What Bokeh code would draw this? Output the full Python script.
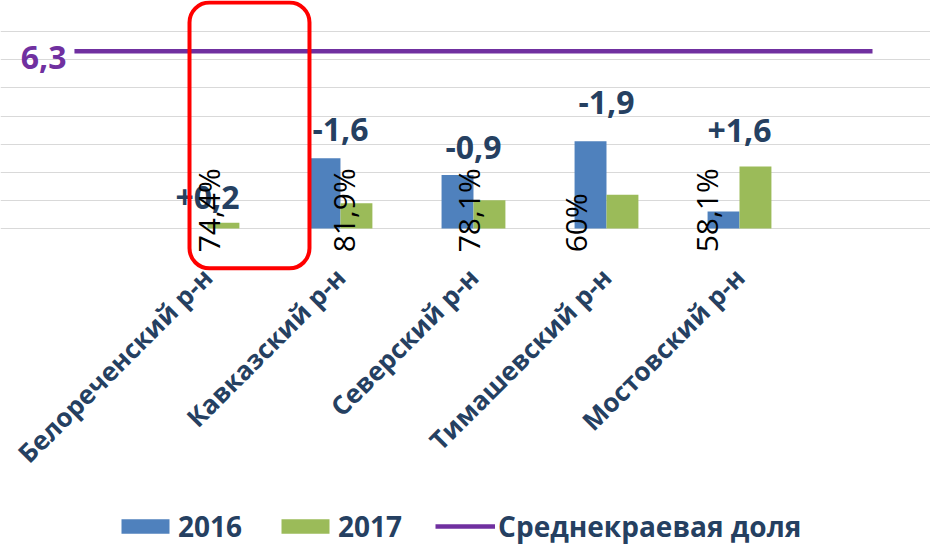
import math
from bokeh.plotting import figure
from bokeh.models import (ColumnDataSource, Range1d, FixedTicker, Legend, LegendItem,
                          BoxAnnotation, Grid)
from bokeh.core.properties import value
from bokeh.embed import file_html
from bokeh.resources import INLINE

# ---- data ----
districts = ["Белореченский р-н", "Кавказский р-н", "Северский р-н",
             "Тимашевский р-н", "Мостовский р-н"]
values_2016 = [0.0, 2.5, 1.9, 3.1, 0.6]
values_2017 = [0.2, 0.9, 1.0, 1.2, 2.2]
change_labels = ["+0,2", "-1,6", "-0,9", "-1,9", "+1,6"]
share_labels = ["74,4%", "81,9%", "78,1%", "60%", "58,1%"]
regional_avg = 6.3
regional_avg_label = "6,3"
grid_ticks = [0, 1, 2, 3, 4, 5, 6, 7]
series_names = ["2016", "2017", "Среднекраевая доля"]

# ---- style / placement ----
FONT = "Open Sans"
TEXT_BLUE = "#254061"
BLUE = "#4F81BD"
GREEN = "#9BBB59"
PURPLE = "#7030A0"
BAR_W = 0.24
change_label_y = [1.10, 3.52, 2.88, 4.48, 3.48]      # vertical spot of change labels
share_label_dx = [0.01, 0.02, -0.04, -0.23, -0.25]    # horizontal nudge of % labels
share_label_y = -0.85
AXIS_Y = -1.28                                        # where the category axis sits

pos = [i + 1 for i in range(len(districts))]
src = ColumnDataSource(dict(
    x16=[p_ - BAR_W / 2 for p_ in pos],
    x17=[p_ + BAR_W / 2 for p_ in pos],
    v16=values_2016, v17=values_2017,
    xc=pos, cy=change_label_y, ct=change_labels,
    xs=[p_ + d for p_, d in zip(pos, share_label_dx)],
    ys=[share_label_y] * len(pos), st=share_labels,
))

p = figure(width=930, height=545, output_backend="svg", toolbar_location=None,
           x_range=Range1d(-0.556, 6.436), y_range=Range1d(-11.28, 8.11),
           y_axis_location=None, min_border=0, min_border_left=0,
           min_border_right=0, min_border_top=0, min_border_bottom=0)
p.outline_line_color = None
p.xgrid.visible = False
p.ygrid.visible = False
p.add_layout(Grid(dimension=1, ticker=FixedTicker(ticks=grid_ticks),
                  grid_line_color="#D9D9D9", grid_line_width=1.2, bounds=(0, 7)))

r16 = p.vbar(x="x16", top="v16", width=BAR_W, bottom=0, source=src,
             fill_color=BLUE, line_color=None)
r17 = p.vbar(x="x17", top="v17", width=BAR_W, bottom=0, source=src,
             fill_color=GREEN, line_color=None)
rl = p.line(x=[0, len(districts) + 1], y=[regional_avg, regional_avg],
            line_color=PURPLE, line_width=4.5)

p.text(x=[0], y=[regional_avg], text=[regional_avg_label], x_offset=-8, y_offset=6,
       text_align="right", text_baseline="middle", text_color=PURPLE,
       text_font=value(FONT), text_font_size="32px", text_font_style="bold")

p.text(x="xc", y="cy", text="ct", source=src, text_align="center",
       text_baseline="alphabetic", text_color=TEXT_BLUE, text_font=value(FONT),
       text_font_size="32px", text_font_style="bold")

p.text(x="xs", y="ys", text="st", source=src, angle=math.pi / 2,
       text_align="left", text_baseline="middle", text_color="black",
       text_font=value(FONT), text_font_size="30px")

p.add_layout(BoxAnnotation(left=0.865, right=1.767, top=8.04, bottom=-1.42,
                           fill_alpha=0, line_color="#FF0000", line_alpha=1,
                           line_width=4, border_radius=20))

ax = p.xaxis[0]
ax.fixed_location = AXIS_Y
ax.ticker = FixedTicker(ticks=pos)
ax.major_label_overrides = {k: v for k, v in zip(pos, districts)}
ax.major_label_orientation = math.pi / 4
ax.major_tick_line_color = None
ax.minor_tick_line_color = None
ax.axis_line_color = None
ax.major_label_standoff = 2
ax.major_label_text_font = FONT
ax.major_label_text_font_size = "26px"
ax.major_label_text_font_style = "bold"
ax.major_label_text_color = TEXT_BLUE

legend = Legend(items=[LegendItem(label=series_names[0], renderers=[r16]),
                       LegendItem(label=series_names[1], renderers=[r17]),
                       LegendItem(label=series_names[2], renderers=[rl])],
                orientation="horizontal", location=(115, 0),
                glyph_width=60, glyph_height=18, label_standoff=3, spacing=33,
                padding=0, margin=0, border_line_color=None,
                background_fill_alpha=0,
                label_text_font=FONT, label_text_font_size="28px",
                label_text_font_style="bold",
                label_text_color=TEXT_BLUE)
p.add_layout(legend)

open("out.html", "w").write(file_html(p, INLINE))
